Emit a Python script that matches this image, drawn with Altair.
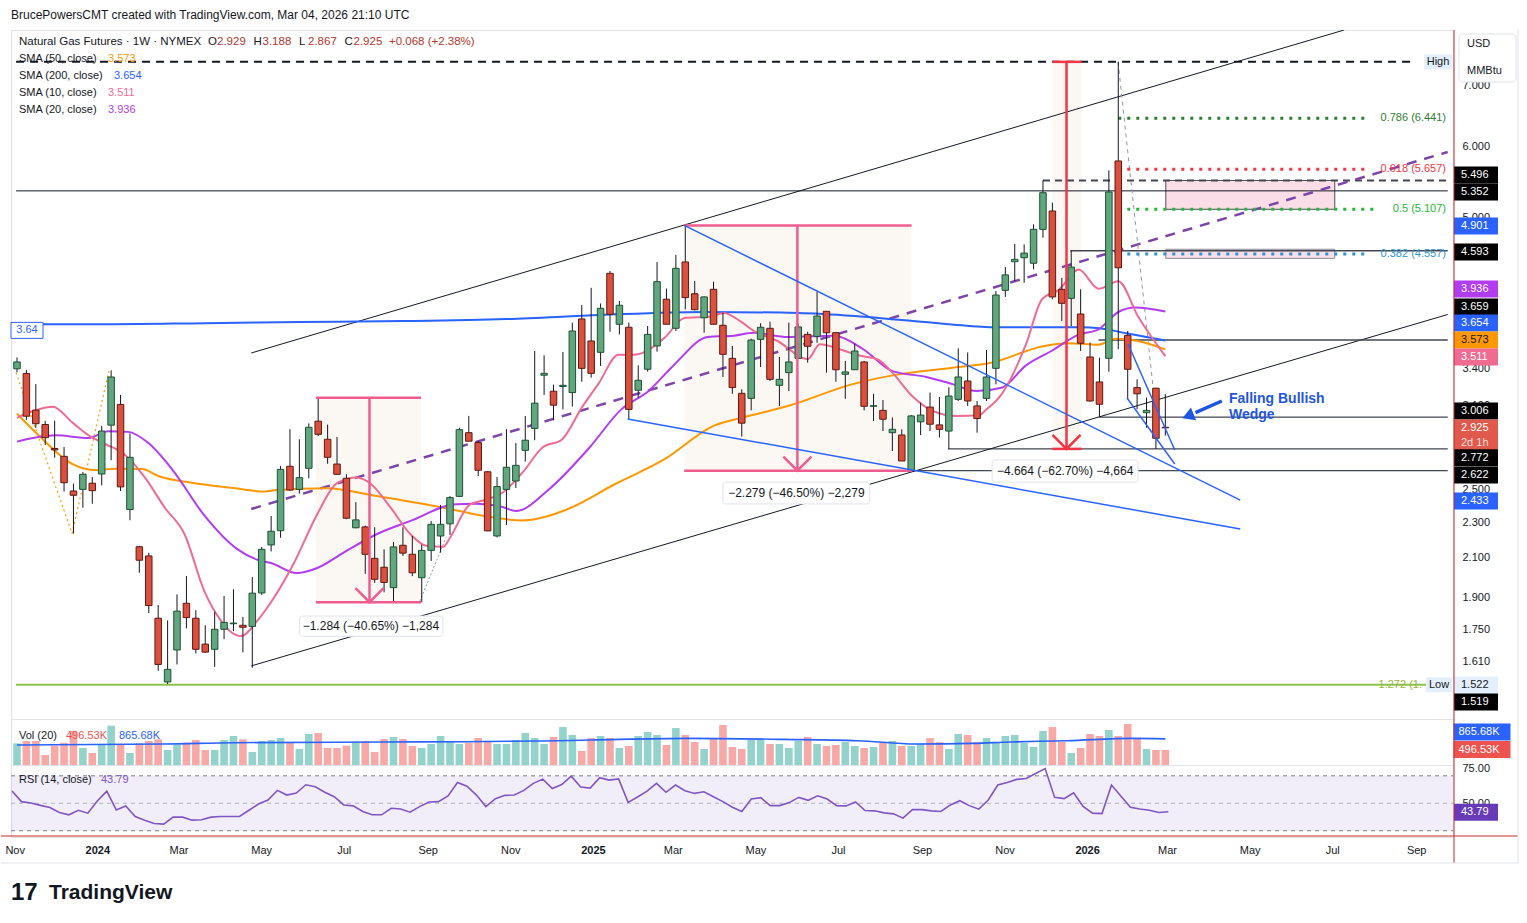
import altair as alt
import pandas as pd

FONT = "Liberation Sans"
INK = "#131722"

# ---------------- data (weekly bars, first bar = week of 2023-10-30) ----------------
first_week = "2023-10-30"

opens = [3.40, 3.36, 3.06, 2.95, 2.775, 2.72, 2.49, 2.50, 2.54, 2.60,
         2.945, 3.105, 2.375, 2.16, 2.11, 1.80, 1.53, 1.66, 1.87, 1.80,
         1.685, 1.663, 1.75, 1.775, 1.768, 1.763, 1.92, 2.17, 2.25, 2.652,
         2.50, 2.638, 2.975, 2.841, 2.667, 2.572, 2.267, 2.272, 2.097, 2.05,
         1.946, 2.168, 2.119, 1.996, 2.14, 2.22, 2.29, 2.456, 2.889, 2.817,
         2.615, 2.22, 2.50, 2.554, 2.762, 2.921, 3.345, 3.211, 3.25, 3.20,
         3.861, 3.65, 3.546, 4.337, 3.809, 3.78, 3.219, 3.396, 3.604, 4.06,
         3.77, 4.465, 4.117, 3.873, 4.164, 3.799, 3.492, 3.194, 3.153, 3.665,
         3.77, 3.26, 3.367, 3.492, 3.712, 3.693, 3.937, 3.728, 3.353, 3.392,
         3.46, 3.09, 3.058, 2.889, 2.872, 2.625, 2.97, 3.084, 2.947, 2.901,
         3.145, 3.296, 3.093, 3.153, 3.404, 4.153, 4.468, 4.513, 4.45, 4.852,
         5.084, 4.164, 4.069, 3.91, 3.504, 3.288, 3.492, 5.776, 3.703, 3.241,
         3.04, 3.236, 2.929]
highs = [3.50, 3.39, 3.27, 2.977, 2.98, 2.785, 2.537, 2.613, 2.58, 2.94,
         3.387, 3.181, 2.882, 2.165, 2.127, 1.862, 1.79, 1.913, 2.005, 1.837,
         1.768, 1.83, 1.905, 1.938, 1.806, 1.999, 2.159, 2.336, 2.654, 2.915,
         2.841, 2.958, 3.159, 2.949, 2.858, 2.598, 2.42, 2.28, 2.27, 2.146,
         2.187, 2.27, 2.22, 2.172, 2.307, 2.403, 2.458, 2.925, 3.015, 2.829,
         2.62, 2.58, 2.915, 2.813, 3.015, 3.558, 3.519, 3.266, 3.549, 3.825,
         4.00, 4.18, 4.016, 4.363, 4.042, 3.825, 3.431, 3.792, 4.465, 4.172,
         4.545, 4.901, 4.253, 4.09, 4.246, 3.923, 3.604, 3.227, 3.672, 3.819,
         3.834, 3.504, 3.825, 3.815, 3.737, 4.139, 3.94, 3.735, 3.469, 3.625,
         3.469, 3.19, 3.14, 3.003, 2.914, 3.022, 3.119, 3.20, 3.164, 3.244,
         3.582, 3.545, 3.132, 3.567, 4.146, 4.407, 4.676, 4.669, 4.915, 5.496,
         5.194, 4.288, 4.593, 4.164, 3.635, 3.498, 5.64, 7.437, 3.744, 3.31,
         3.159, 3.24, 3.188]
lows = [3.37, 2.985, 2.924, 2.80, 2.71, 2.486, 2.234, 2.386, 2.41, 2.526,
        2.693, 2.49, 2.311, 2.021, 1.824, 1.574, 1.522, 1.60, 1.754, 1.645,
        1.648, 1.59, 1.706, 1.742, 1.65, 1.587, 1.91, 2.134, 2.21, 2.49,
        2.474, 2.572, 2.864, 2.669, 2.594, 2.317, 2.264, 2.016, 1.97, 1.923,
        1.88, 2.11, 2.004, 1.875, 2.083, 2.128, 2.226, 2.452, 2.827, 2.587,
        2.247, 2.212, 2.283, 2.509, 2.683, 2.834, 3.181, 2.982, 3.066, 3.088,
        3.29, 3.324, 3.425, 3.737, 3.712, 2.992, 3.159, 3.375, 3.552, 3.809,
        3.744, 3.957, 3.947, 3.728, 3.809, 3.33, 3.19, 2.861, 3.058, 3.416,
        3.296, 3.093, 3.213, 3.492, 3.454, 3.634, 3.367, 3.29, 3.15, 3.39,
        3.058, 2.977, 2.901, 2.757, 2.688, 2.622, 2.872, 2.901, 2.853, 2.772,
        3.132, 3.093, 2.889, 3.132, 3.268, 4.084, 4.253, 4.234, 4.382, 4.75,
        4.06, 3.841, 3.792, 3.558, 3.127, 3.006, 3.375, 3.574, 3.145, 3.066,
        2.926, 2.772, 2.867]
closes = [3.46, 3.013, 2.956, 2.853, 2.765, 2.543, 2.463, 2.598, 2.492, 2.901,
          3.33, 2.516, 2.713, 2.087, 1.859, 1.60, 1.58, 1.833, 1.803, 1.663,
          1.651, 1.75, 1.781, 1.778, 1.759, 1.919, 2.146, 2.247, 2.631, 2.496,
          2.576, 2.929, 2.877, 2.713, 2.598, 2.323, 2.313, 2.119, 1.988, 1.972,
          2.159, 2.125, 2.021, 2.14, 2.287, 2.287, 2.448, 2.911, 2.827, 2.625,
          2.249, 2.518, 2.645, 2.658, 2.834, 3.115, 3.361, 3.099, 3.26, 3.744,
          3.404, 3.361, 3.967, 3.907, 3.998, 3.066, 3.302, 3.712, 4.246, 3.809,
          4.393, 4.077, 3.953, 4.084, 3.809, 3.528, 3.241, 2.96, 3.659, 3.78,
          3.31, 3.31, 3.46, 3.783, 3.601, 3.89, 3.728, 3.392, 3.373, 3.558,
          3.09, 3.095, 2.99, 2.914, 2.688, 3.015, 3.022, 2.952, 2.914, 3.172,
          3.33, 3.132, 2.995, 3.33, 4.104, 4.32, 4.495, 4.567, 4.852, 5.327,
          4.084, 4.018, 4.407, 3.629, 3.132, 3.106, 5.337, 4.399, 3.396, 3.19,
          3.058, 2.848, 2.925]
volumes_k = [717, 794, 794, 331, 640, 739, 1125, 563, 397, 662,
             1302, 662, 397, 717, 794, 849, 496, 662, 739, 827,
             496, 496, 827, 960, 849, 430, 794, 827, 893, 739,
             529, 1026, 1059, 563, 563, 640, 739, 794, 430, 860,
             927, 860, 629, 563, 695, 960, 794, 695, 739, 893,
             794, 695, 695, 827, 1059, 893, 695, 927, 1257, 993,
             463, 893, 960, 893, 563, 629, 960, 1092, 993, 662,
             1224, 993, 761, 529, 860, 1324, 596, 529, 827, 827,
             695, 695, 563, 794, 927, 695, 629, 662, 761, 629,
             563, 596, 761, 794, 629, 629, 695, 893, 761, 529,
             1026, 993, 761, 893, 761, 960, 993, 728, 596, 1125,
             1257, 761, 397, 563, 1026, 960, 1158, 960, 1357, 893,
             529, 496, 496.53]
rsi14 = [58.9, 51.2, 50.2, 48.5, 46.9, 43.3, 41.6, 44.9, 42.8, 51.7,
         58.9, 45.2, 48.1, 40.4, 37.7, 35.3, 34.8, 39.9, 39.9, 37.7,
         38.0, 39.9, 40.4, 40.4, 40.4, 44.9, 49.5, 52.4, 59.4, 56.0,
         57.5, 63.5, 62.0, 58.0, 54.8, 48.8, 48.1, 44.0, 41.6, 41.6,
         46.4, 45.9, 43.5, 47.6, 51.0, 51.2, 55.3, 65.2, 62.5, 56.0,
         47.6, 53.4, 55.8, 56.0, 59.4, 64.5, 67.6, 60.8, 63.7, 69.8,
         61.8, 61.1, 68.6, 66.9, 67.8, 50.7, 54.6, 58.9, 64.5, 58.0,
         63.3, 59.2, 57.2, 58.4, 54.8, 51.2, 47.1, 44.0, 53.1, 54.1,
         48.3, 48.3, 50.5, 54.3, 52.2, 55.5, 53.1, 48.3, 48.1, 51.0,
         44.7, 44.5, 43.0, 42.3, 39.2, 45.4, 45.4, 44.5, 44.0, 48.8,
         51.9, 48.3, 45.7, 52.4, 63.3, 65.2, 67.4, 68.1, 71.7, 75.3,
         54.3, 53.4, 57.7, 47.8, 42.8, 42.5, 63.3, 55.1, 47.1, 45.9,
         44.9, 43.3, 43.79]

# moving averages (bar index, value)
sma200_idx = [0, 10, 20, 30, 41, 52, 62, 73, 83, 89, 94, 99, 104, 110, 113, 115, 118, 122]
sma200_val = [3.81, 3.81, 3.82, 3.83, 3.84, 3.86, 3.90, 3.93, 3.92, 3.89, 3.85, 3.81, 3.78, 3.78, 3.78, 3.77, 3.72, 3.654]
sma50_idx = [0, 2.3, 5.9, 8.3, 10.4, 13.3, 15, 18.6, 22.8, 26.3, 27.6, 32.9, 38.2, 45.3, 49.5, 53.7, 58.6, 63.5,
             68.8, 74, 76.9, 81.9, 88.8, 93.5, 99.4, 103.6, 108.9, 111.7, 114.9, 116.7, 119.1, 122]
sma50_val = [3.032, 2.87, 2.667, 2.627, 2.635, 2.633, 2.587, 2.543, 2.51, 2.486, 2.496, 2.507, 2.458, 2.386, 2.337,
             2.31, 2.38, 2.533, 2.70, 2.94, 3.00, 3.092, 3.27, 3.35, 3.41, 3.455, 3.60, 3.63, 3.616, 3.67, 3.65, 3.573]
sma20_idx = [0, 4.1, 7.6, 9.7, 11.8, 13.9, 16.5, 19.9, 23.4, 25.5, 27, 29.7, 31.9, 34.7, 38.2, 41.8, 46.6, 48.7,
             51.6, 53, 56.5, 60.8, 64.2, 67.1, 69.8, 73.4, 76.2, 78.3, 81.9, 86.7, 89.9, 93, 96.6, 99.4, 101.9,
             104.6, 107.2, 109.9, 112.8, 114.9, 117, 118.8, 122]
sma20_val = [2.824, 2.87, 2.85, 2.90, 2.895, 2.817, 2.63, 2.34, 2.147, 2.09, 2.072, 2.02, 2.046, 2.128, 2.23, 2.307,
             2.407, 2.41, 2.39, 2.366, 2.50, 2.78, 3.066, 3.213, 3.434, 3.688, 3.70, 3.727, 3.687, 3.70, 3.574, 3.38,
             3.33, 3.27, 3.213, 3.24, 3.43, 3.558, 3.71, 3.76, 3.93, 3.975, 3.936]
sma10_idx = [0, 1.7, 3.8, 5.9, 7.6, 9.4, 11.2, 13.6, 15.7, 17.8, 19.9, 21.7, 22.8, 23.8, 25.5, 26.6, 29.4, 31.9,
             34, 36.1, 37.6, 39.7, 41.8, 43.5, 45.3, 46, 48.1, 49.5, 51.6, 53.7, 55.8, 57.9, 60, 61.8, 63.9, 65.6,
             68.8, 70.9, 73.7, 75.1, 76.9, 78.3, 80.8, 84, 85.3, 87.4, 89.6, 91.4, 93, 95.1, 97.3, 99.8, 102.2, 103,
             104.6, 107.2, 108.9, 110.7, 112.8, 114.9, 117, 119.1, 122]
sma10_val = [3.00, 3.053, 3.087, 2.964, 2.87, 2.805, 2.745, 2.576, 2.386, 2.23, 1.929, 1.787, 1.736, 1.72, 1.787,
             1.85, 2.07, 2.347, 2.54, 2.577, 2.535, 2.386, 2.23, 2.165, 2.16, 2.21, 2.405, 2.43, 2.48, 2.609, 2.78,
             2.84, 3.08, 3.276, 3.525, 3.525, 3.68, 3.87, 3.886, 3.92, 3.835, 3.744, 3.65, 3.485, 3.62, 3.574, 3.515,
             3.485, 3.367, 3.172, 3.053, 3.015, 3.02, 3.066, 3.186, 3.62, 4.06, 4.16, 4.38, 4.17, 4.25, 3.886, 3.511]
vol_ma_idx = [0, 15.8, 23.1, 39, 47.4, 55.8, 61, 71.2, 81.3, 89.3, 95.5, 101.5, 105.5, 111.6, 118.5, 122]
vol_ma_val = [662, 695, 739, 761, 772, 794, 827, 882, 849, 805, 695, 717, 761, 805, 882, 865.68]

price_ticks = [1.61, 1.75, 1.9, 2.1, 2.3, 2.5, 3.1, 3.4, 5.0, 6.0, 7.0]

# header OHLC read-out (letter, value)
ohlc_letters = ["O", "H", "L", "C"]
ohlc_values = ["2.929", "3.188", "2.867", "2.925"]
ohlc_change = "+0.068 (+2.38%)"

# right-scale labels: text, displayed position, background, text colour
px_labels = ["5.496", "5.352", "4.901", "4.593", "3.936", "3.659", "3.654", "3.573", "3.511",
             "3.006", "2.925", "2d 1h", "2.772", "2.622", "2.433", "1.522", "1.519"]
px_label_pos = [5.573, 5.337, 4.894, 4.579, 4.167, 3.981, 3.821, 3.659, 3.504,
                3.053, 2.924, 2.814, 2.711, 2.593, 2.427, 1.518, 1.454]
px_label_bg = ["#000000", "#000000", "#2962ff", "#000000", "#b23cf0", "#000000", "#2962ff", "#ff9800", "#f06b92",
               "#000000", "#df5a4c", "#df5a4c", "#000000", "#000000", "#2962ff", "#e3effd", "#000000"]
px_label_fg = ["#ffffff", "#ffffff", "#ffffff", "#ffffff", "#ffffff", "#ffffff", "#ffffff", "#131722", "#ffffff",
               "#ffffff", "#ffffff", "#f6dcd8", "#ffffff", "#ffffff", "#ffffff", "#131722", "#ffffff"]

fib_levels = [6.441, 5.657, 5.107, 4.557]
fib_names = ["0.786 (6.441)", "0.618 (5.657)", "0.5 (5.107)", "0.382 (4.557)"]
fib_colors = ["#2e7d32", "#f23645", "#22b83a", "#2b95d3"]
fib_end = [143.3, 143.3, 144.6, 143.2]

# ---------------- helpers ----------------
BASE = pd.Timestamp(first_week)


def wk(i):
    return BASE + pd.to_timedelta(7 * i, unit="D")


W, HP, HV, HR = 1442, 689, 46, 72
RIGHT = 152.0
LEFT = -0.1
xs = alt.Scale(domain=[alt.DateTime(year=2023, month=10, date=29, hours=6, minutes=17),
                       alt.DateTime(year=2026, month=9, date=28, hours=5)])
ys = alt.Scale(type="log", domain=[1.3922, 8.066], nice=False)
vs = alt.Scale(domain=[0, 1523], nice=False, zero=True)
rs = alt.Scale(domain=[25.44, 77.9], nice=False, zero=False)
ONE = pd.DataFrame({"a": [0]})

price_axis = alt.Axis(orient="right", values=price_ticks, format=".3f", labelFontSize=11, labelColor=INK,
                      labelFont=FONT, ticks=False, domain=False, grid=False, labelPadding=9, title=None,
                      labelAlign="left", labelBaseline="middle")
rsi_axis = alt.Axis(orient="right", values=[50, 75], format=".2f", labelFontSize=11, labelColor=INK,
                    labelFont=FONT, ticks=False, domain=False, grid=False, labelPadding=9, title=None,
                    labelAlign="left", labelBaseline="middle")


def axis_for(scale):
    if scale is ys:
        return price_axis
    if scale is rs:
        return rsi_axis
    return None


def X(f="date"):
    return alt.X(f"{f}:T", scale=xs, axis=None)


def YP(f, scale=ys):
    return alt.Y(f"{f}:Q", scale=scale, axis=axis_for(scale))


def segs(rows, color, width=1.0, dash=None, clip=True, opacity=1.0):
    df = pd.DataFrame([{"x1": wk(a), "y1": b, "x2": wk(c), "y2": d} for a, b, c, d in rows])
    props = dict(color=color, strokeWidth=width, clip=clip, opacity=opacity)
    if dash is not None:
        props["strokeDash"] = dash
    return alt.Chart(df).mark_rule(**props).encode(x=X("x1"), x2="x2:T", y=YP("y1"), y2="y2:Q")


def rects(rows, fill, stroke=None, sw=0.0, opacity=1.0, radius=0):
    df = pd.DataFrame([{"x1": wk(a), "x2": wk(b), "y1": c, "y2": d} for a, b, c, d in rows])
    props = dict(fill=fill, opacity=opacity, cornerRadius=radius)
    if stroke:
        props.update(stroke=stroke, strokeWidth=sw)
    return alt.Chart(df).mark_rect(**props).encode(x=X("x1"), x2="x2:T", y=YP("y1"), y2="y2:Q")


def dtext(i, p, s, color=INK, size=11, weight="normal", align="center"):
    df = pd.DataFrame({"d": [wk(i)], "p": [p], "s": [s]})
    return alt.Chart(df).mark_text(color=color, fontSize=size, fontWeight=weight, align=align,
                                   baseline="middle", font=FONT).encode(x=X("d"), y=YP("p"), text="s:N")


def ptext(x, y, s, color=INK, size=11, weight="normal", align="left"):
    return alt.Chart(ONE).mark_text(text=s, color=color, fontSize=size, fontWeight=weight, align=align,
                                    baseline="middle", font=FONT).encode(x=alt.value(x), y=alt.value(y))


def prule(x, y, x2, y2, color, width=1.0):
    return alt.Chart(ONE).mark_rule(color=color, strokeWidth=width).encode(
        x=alt.value(x), y=alt.value(y), x2=alt.value(x2), y2=alt.value(y2))


def boxshape(w, h):
    r = h / w
    return f"M-1,{-r:.4f}L1,{-r:.4f}L1,{r:.4f}L-1,{r:.4f}Z"


def scale_boxes(labels, pos, bg, fg, scale, xc=1465, w=44, h=17, pad=7):
    df = pd.DataFrame({"t": labels, "p": pos, "bg": bg, "fg": fg})
    box = alt.Chart(df).mark_point(shape=boxshape(w, h), size=w * w, filled=True, opacity=1,
                                   strokeWidth=0).encode(
        x=alt.value(xc), y=YP("p", scale), color=alt.Color("bg:N", scale=None))
    txt = alt.Chart(df).mark_text(align="left", baseline="middle", fontSize=11, font=FONT).encode(
        x=alt.value(xc - w / 2 + pad), y=YP("p", scale), text="t:N",
        color=alt.Color("fg:N", scale=None))
    return [box, txt]


def line_series(idx, vals, color, width, scale=ys):
    df = pd.DataFrame({"date": [wk(i) for i in idx], "v": vals})
    return alt.Chart(df).mark_line(color=color, strokeWidth=width, interpolate="monotone").encode(
        x=X(), y=YP("v", scale))


# ---------------- price pane ----------------
n = len(opens)
dirs = ["up" if c >= o else "dn" for o, c in zip(opens, closes)]
candles = pd.DataFrame({"date": [wk(i) for i in range(n)], "o": opens, "h": highs, "l": lows,
                        "c": closes, "dir": dirs})

PINK = "#ef5d8f"
RED = "#f23645"
BLUE = "#2962ff"

layers = []
# anchor for the page layout (top-left corner of the page)
layers.append(alt.Chart(ONE).mark_rect(opacity=0).encode(
    x=alt.value(-10), x2=alt.value(0), y=alt.value(-29), y2=alt.value(0)))
# measure tool backgrounds
layers.append(rects([(31.75, 42.93, 3.159, 1.875), (70.89, 95.04, 4.901, 2.622),
                     (110.0, 113.1, 7.437, 2.772)], fill="#f6ede4", opacity=0.45))
# zones
layers.append(rects([(122.05, 140.0, 5.107, 5.496)], fill="#fbdde8", stroke="#4a4d57", sw=1))
layers.append(rects([(122.05, 140.0, 4.506, 4.612)], fill="#fbdde8", stroke="#8a8d96", sw=1))
# long channel + horizontals
layers.append(segs([(24.89, 3.54, 141.0, 8.066), (24.89, 1.594, RIGHT, 3.905),
                    (LEFT, 5.352, RIGHT, 5.352), (115.0, 3.006, RIGHT, 3.006),
                    (98.9, 2.772, RIGHT, 2.772), (95.0, 2.622, RIGHT, 2.622)], INK, 1))
layers.append(segs([(111.9, 4.593, RIGHT, 4.593), (114.9, 3.659, RIGHT, 3.659)], "#434651", 1.5))
layers.append(segs([(109.0, 5.496, RIGHT, 5.496)], "#434651", 2, dash=[7, 5]))
layers.append(segs([(LEFT, 7.437, 148.6, 7.437)], INK, 2, dash=[8, 6]))
layers.append(segs([(LEFT, 1.519, RIGHT, 1.519)], "#8bc34a", 2))
layers.append(segs([(24.89, 2.378, RIGHT, 5.91)], "#7e45a8", 2.5, dash=[10, 8]))
layers.append(segs([(LEFT, 3.366, 5.85, 2.234), (5.85, 2.234, 9.76, 3.381)], "#ff9800", 1.2, dash=[2, 3]))
layers.append(segs([(42.8, 1.88, 45.57, 2.21)], "#9598a1", 1, dash=[2, 2]))
layers.append(segs([(116.98, 7.437, 121.2, 2.90)], "#9598a1", 1, dash=[4, 4]))
# fibonacci levels
for lv, nm, col, end in zip(fib_levels, fib_names, fib_colors, fib_end):
    layers.append(segs([(117.0, lv, end, lv)], col, 3, dash=[3, 6]))
    dfl = pd.DataFrame({"p": [lv], "s": [nm]})
    layers.append(alt.Chart(dfl).mark_text(color=col, fontSize=11, align="right", baseline="middle",
                                           font=FONT).encode(x=alt.value(1435), y=YP("p"), text="s:N"))
layers.append(alt.Chart(pd.DataFrame({"p": [1.519], "s": ["1.272 (1."]})).mark_text(
    color="#9ab53a", fontSize=11, align="right", baseline="middle", font=FONT).encode(
    x=alt.value(1411), y=YP("p"), text="s:N"))
# moving averages
layers.append(line_series(sma200_idx, sma200_val, BLUE, 2))
layers.append(line_series(sma50_idx, sma50_val, "#ff9800", 2))
layers.append(line_series(sma20_idx, sma20_val, "#b23cf0", 2))
layers.append(line_series(sma10_idx, sma10_val, "#f06b92", 2))
# candles
layers.append(alt.Chart(candles).mark_rule(color=INK, strokeWidth=1).encode(
    x=X(), y=YP("l"), y2="h:Q"))
layers.append(alt.Chart(candles).mark_bar(size=6.5, strokeWidth=1).encode(
    x=X(), y=YP("o"), y2="c:Q",
    fill=alt.Fill("dir:N", scale=alt.Scale(domain=["up", "dn"], range=["#62a67f", "#d9503f"]), legend=None),
    stroke=alt.Stroke("dir:N", scale=alt.Scale(domain=["up", "dn"], range=["#1d5234", "#5e1a12"]),
                      legend=None)))
# measure tools
layers.append(segs([(31.75, 3.159, 42.93, 3.159), (31.75, 1.875, 42.93, 1.875), (37.45, 3.159, 37.45, 1.875),
                    (70.89, 4.901, 95.04, 4.901), (70.89, 2.622, 95.04, 2.622), (82.91, 4.901, 82.91, 2.622)],
                   PINK, 2.5))
layers.append(segs([(110.0, 7.437, 113.1, 7.437), (110.0, 2.772, 113.1, 2.772), (111.5, 7.437, 111.5, 2.772)],
                   RED, 2.5))
arr = pd.DataFrame({"d": [wk(37.45), wk(82.91), wk(111.5)], "p": [1.875, 2.622, 2.772],
                    "c": [PINK, PINK, RED]})
layers.append(alt.Chart(arr).mark_point(shape="M-1,-1L0,0L1,-1", size=784, filled=False, strokeWidth=2.5,
                                        opacity=1).encode(x=X("d"), y=YP("p"), color=alt.Color("c:N", scale=None)))
layers.append(rects([(30.0, 45.25, 1.81, 1.719), (75.0, 90.6, 2.547, 2.409), (103.6, 119.1, 2.695, 2.547)],
                    fill="#ffffff", stroke="#e0e3eb", sw=1, radius=3))
layers.append(dtext(37.6, 1.764, "\u22121.284 (\u221240.65%) \u22121,284", size=12))
layers.append(dtext(82.8, 2.477, "\u22122.279 (\u221246.50%) \u22122,279", size=12))
layers.append(dtext(111.35, 2.62, "\u22124.664 (\u221262.70%) \u22124,664", size=12))
# falling wedge
layers.append(segs([(70.89, 4.901, 129.96, 2.433), (64.87, 2.992, 129.96, 2.26),
                    (118.04, 3.622, 123.0, 2.764), (117.93, 3.156, 123.0, 2.667)], BLUE, 1.5))
layers.append(segs([(128.0, 3.132, 125.2, 3.04)], "#1f55e0", 3.5))
layers.append(alt.Chart(pd.DataFrame({"d": [wk(124.6)], "p": [3.02]})).mark_point(
    shape="triangle", size=190, filled=True, opacity=1, angle=248, color="#1f55e0").encode(x=X("d"), y=YP("p")))
layers.append(ptext(1218, 369, "Falling Bullish", color="#1f55e0", size=14, weight="bold"))
layers.append(ptext(1218, 385, "Wedge", color="#1f55e0", size=14, weight="bold"))
# High / Low tags and left tag
hl = pd.DataFrame({"p": [7.437, 1.519], "t": ["High", "Low"], "x": [1427, 1428]})
layers.append(alt.Chart(hl.iloc[[0]]).mark_point(shape=boxshape(28, 15), size=28 * 28, filled=True, opacity=1,
                                                  color="#e3effd", strokeWidth=0).encode(x=alt.value(1427), y=YP("p")))
layers.append(alt.Chart(hl.iloc[[1]]).mark_point(shape=boxshape(26, 15), size=26 * 26, filled=True, opacity=1,
                                                  color="#e3effd", strokeWidth=0).encode(x=alt.value(1428), y=YP("p")))
layers.append(alt.Chart(hl).mark_text(fontSize=11, font=FONT, color=INK, baseline="middle").encode(
    x=alt.X("x:Q", scale=None), y=YP("p"), text="t:N"))
layers.append(alt.Chart(pd.DataFrame({"p": [3.75]})).mark_point(
    shape=boxshape(32, 16), size=32 * 32, filled=True, opacity=1, color="#ffffff", stroke=BLUE,
    strokeWidth=1).encode(x=alt.value(16), y=YP("p")))
layers.append(alt.Chart(pd.DataFrame({"p": [3.75], "s": ["3.64"]})).mark_text(
    fontSize=11, font=FONT, color=BLUE, baseline="middle").encode(x=alt.value(16), y=YP("p"), text="s:N"))
# legend + header
layers.append(ptext(0, -15, "BrucePowersCMT created with TradingView.com, Mar 04, 2026 21:10 UTC", size=12))
layers.append(ptext(8, 12, "Natural Gas Futures \u00b7 1W \u00b7 NYMEX", size=11.5))
for k, (let, val) in enumerate(zip(ohlc_letters, ohlc_values)):
    layers.append(ptext(197 + 45.5 * k, 12, let, size=11.5))
    layers.append(ptext(206 + 45.5 * k, 12, val, color="#b2362c", size=11.5))
layers.append(ptext(378, 12, ohlc_change, color="#b2362c", size=11.5))
leg = [("SMA (50, close)", "3.573", "#ff9800", 97), ("SMA (200, close)", "3.654", BLUE, 103),
       ("SMA (10, close)", "3.511", "#f06b92", 97), ("SMA (20, close)", "3.936", "#b23cf0", 97)]
for k, (a, b, col, xv) in enumerate(leg):
    layers.append(ptext(8, 29 + 17 * k, a))
    layers.append(ptext(xv, 29 + 17 * k, b, color=col))
# right scale tags
layers += scale_boxes(px_labels, px_label_pos, px_label_bg, px_label_fg, ys)
layers.append(alt.Chart(ONE).mark_rect(fill="#ffffff", stroke="#e0e3eb", strokeWidth=1, cornerRadius=4).encode(
    x=alt.value(1448), x2=alt.value(1505), y=alt.value(4), y2=alt.value(52)))
layers.append(ptext(1456, 14, "USD", size=11))
layers.append(ptext(1456, 41, "MMBtu", size=11))
layers.append(prule(1443, 0, 1443, HP, "#c62828", 1))
layers.append(prule(1507, -1, 1507, HP, "#e0e3eb", 1))

price = alt.layer(*layers).properties(width=W, height=HP)

# ---------------- volume pane ----------------
vol_df = pd.DataFrame({"date": [wk(i) for i in range(n)], "v": volumes_k, "dir": dirs})
vlayers = [
    alt.Chart(vol_df).mark_bar(size=7.6).encode(
        x=X(), y=YP("v", vs), color=alt.Color("dir:N", scale=alt.Scale(domain=["up", "dn"],
                                                                     range=["#93d3cb", "#f7a9a7"]), legend=None)),
    line_series(vol_ma_idx, vol_ma_val, BLUE, 1.6, scale=vs),
    ptext(8, 17, "Vol (20)"),
    ptext(55, 17, "496.53K", color="#ef5350"),
    ptext(108, 17, "865.68K", color=BLUE),
]
vlayers += scale_boxes(["865.68K", "496.53K"], [1092, 510], [BLUE, "#ef5350"], ["#ffffff", "#ffffff"], vs,
                       xc=1471, w=57, h=17, pad=5)
vlayers.append(prule(1443, 0, 1443, HV, "#c62828", 1))
vlayers.append(prule(1507, 0, 1507, HV, "#e0e3eb", 1))
volume = alt.layer(*vlayers).properties(width=W, height=HV)

# ---------------- RSI pane ----------------
rsi_df = pd.DataFrame({"date": [wk(i) for i in range(n)], "r": rsi14})
x_axis = alt.Axis(
    tickCount={"interval": "month", "step": 2},
    labelExpr="month(datum.value) == 0 ? timeFormat(datum.value, '%Y') : timeFormat(datum.value, '%b')",
    labelFontWeight={"condition": {"test": "month(datum.value) == 0", "value": "bold"}, "value": "normal"},
    ticks=False, domain=False, grid=False, labelPadding=7, labelFontSize=11, labelColor=INK, title=None,
    labelFont=FONT, labelFlush=False, labelOverlap=False)
band = pd.DataFrame({"a": [70], "b": [30]})
lvls = pd.DataFrame({"lv": [70, 50, 30], "col": ["#787b86", "#b2b5be", "#787b86"]})
rlayers = [
    alt.Chart(band).mark_rect(fill="#7e57c2", opacity=0.1).encode(
        x=alt.value(0), x2=alt.value(W), y=YP("a", rs), y2="b:Q"),
    alt.Chart(lvls).mark_rule(strokeDash=[4, 4], strokeWidth=1).encode(
        x=alt.value(0), x2=alt.value(W), y=YP("lv", rs), color=alt.Color("col:N", scale=None)),
    alt.Chart(rsi_df).mark_line(color="#7e57c2", strokeWidth=1.6).encode(
        x=alt.X("date:T", scale=xs, axis=x_axis), y=YP("r", rs)),
    ptext(8, 15, "RSI (14, close)"),
    ptext(90, 15, "43.79", color="#7e57c2"),
]
rlayers += scale_boxes(["43.79"], [43.4], ["#673ab7"], ["#ffffff"], rs, xc=1465, w=44, h=17)
rlayers += [
    prule(1443, 0, 1443, 98, "#c62828", 1),
    prule(-10, 71, 1507, 71, "#c62828", 1),
    prule(-10, 98, 1507, 98, "#e0e3eb", 1),
    prule(1507, 0, 1507, 98, "#e0e3eb", 1),
    ptext(0, 128, "17", size=24, weight="bold"),
    ptext(38, 128, "TradingView", size=21, weight="bold"),
]
rsi = alt.layer(*rlayers).properties(width=W, height=HR)

chart = alt.vconcat(price, volume, rsi, spacing=0, bounds="flush").properties(
    padding=0, background="#ffffff").configure_view(stroke="#e0e3eb", strokeWidth=1)

chart.save("out.html", embed_options={"renderer": "svg", "actions": False})
